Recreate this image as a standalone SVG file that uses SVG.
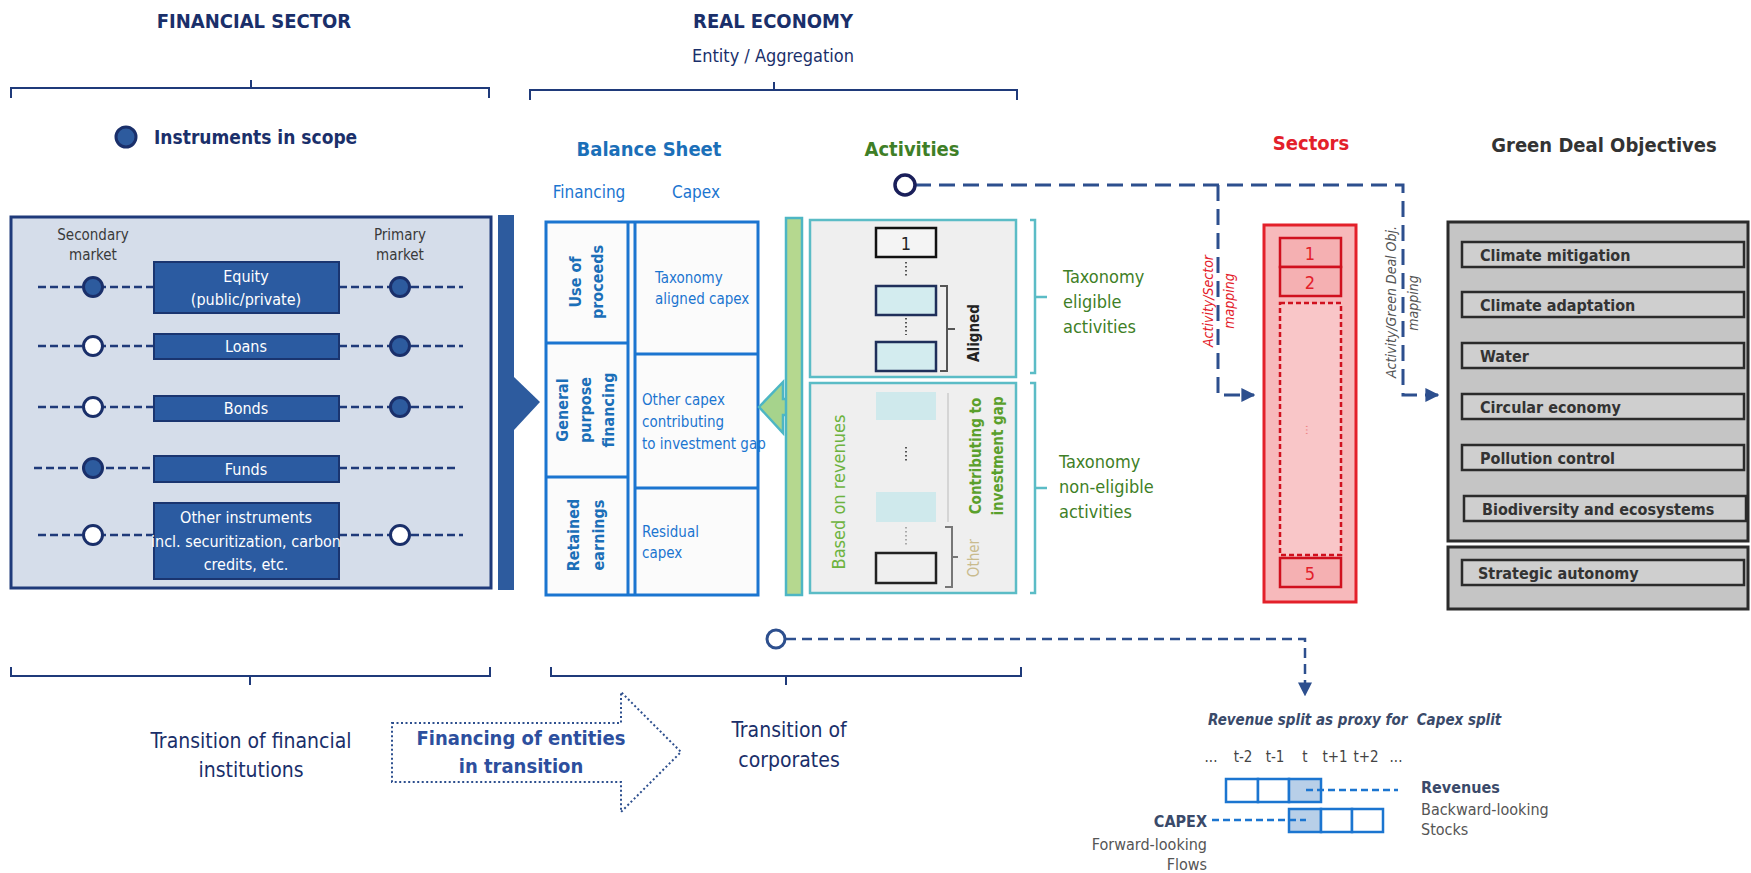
<svg xmlns="http://www.w3.org/2000/svg" width="1751" height="873" viewBox="0 0 1751 873">
<style>
text{font-family:'Liberation Sans Narrow','DejaVu Sans Condensed','Liberation Sans',sans-serif}
.h{font-weight:bold;font-size:20px;text-anchor:middle}
.navy{fill:#1a2f6a}
.br{fill:none;stroke:#1f3a7a;stroke-width:2}
.dl{fill:none;stroke:#1f3a7a;stroke-width:2.5;stroke-dasharray:8 4}
.cf{fill:#2d5b9e;stroke:#1a2f6a;stroke-width:3}
.co{fill:#fff;stroke:#1a2f6a;stroke-width:3}
.ib{fill:#2b5ba1;stroke:#1a3570;stroke-width:2}
.it{fill:#fff;font-size:16px;text-anchor:middle}
.mk{fill:#3a3a3a;font-size:15px;text-anchor:middle}
.bs{fill:none;stroke:#1b75d0;stroke-width:3}
.bl{fill:#1b6fb8;font-size:16px;font-weight:bold;text-anchor:middle}
.bt{fill:#1b75d0;font-size:15px}
.ab{fill:#efefef;stroke:#5bbcc6;stroke-width:2.5}
.gt{fill:#3f7f27;font-size:18px}
.cb{fill:none;stroke:#5bbcc6;stroke-width:2.5}
.md{fill:none;stroke:#2d4f8e;stroke-width:3;stroke-dasharray:16 8}
.gi{fill:#cfcfcf;stroke:#2b2b2b;stroke-width:2.5}
.gx{fill:#333;font-size:16px;font-weight:bold}
.st{fill:#e3202a;font-size:18px;text-anchor:middle}
.sb{fill:#f5b0b2;stroke:#d0101e;stroke-width:2.5}
.cell{fill:#fff;stroke:#1b75d0;stroke-width:2.5}
.cellsh{fill:#b8cfe8;stroke:#1b75d0;stroke-width:2.5}
.tl{fill:#444;font-size:15px;text-anchor:middle}
</style>
<defs>
<marker id="ah" viewBox="0 0 10 10" refX="9" refY="5" markerWidth="14" markerHeight="14" markerUnits="userSpaceOnUse" orient="auto">
<path d="M0,0 L10,5 L0,10 Z" fill="#2d4f8e"/>
</marker>
</defs>

<g id="headers">
<text x="254" y="28" class="h navy">FINANCIAL SECTOR</text>
<path class="br" d="M11,98 V88 H489 V98 M251,88 V80"/>
<circle cx="126" cy="137" r="10" class="cf" stroke-width="2"/>
<text x="154" y="144" class="navy" font-size="19" font-weight="bold">Instruments in scope</text>
<text x="773" y="28" class="h navy">REAL ECONOMY</text>
<text x="773" y="62" class="navy" font-size="18" text-anchor="middle">Entity / Aggregation</text>
<path class="br" d="M530,100 V90 H1017 V100 M774,90 V82"/>
<text x="649" y="156" class="h" fill="#1b6fb8">Balance Sheet</text>
<text x="912" y="156" class="h" fill="#3f7f27">Activities</text>
<text x="1311" y="150" class="h" fill="#e3202a">Sectors</text>
<text x="1604" y="152" class="h" fill="#333">Green Deal Objectives</text>
<text x="589" y="198" fill="#1b75d0" font-size="17" text-anchor="middle">Financing</text>
<text x="696" y="198" fill="#1b75d0" font-size="17" text-anchor="middle">Capex</text>
</g>

<g id="instruments">
<rect x="11" y="217" width="480" height="371" fill="#d5ddea" stroke="#1f3a7a" stroke-width="3"/>
<text x="93" y="240" class="mk">Secondary</text>
<text x="93" y="260" class="mk">market</text>
<text x="400" y="240" class="mk">Primary</text>
<text x="400" y="260" class="mk">market</text>
<path class="dl" d="M38,287 H154 M339,287 H463 M38,346 H154 M339,346 H463 M38,407 H154 M339,407 H463 M34,468 H154 M339,468 H458 M38,535 H154 M339,535 H463"/>
<rect x="154" y="262" width="185" height="51" class="ib"/>
<text x="246" y="282" class="it">Equity</text>
<text x="246" y="305" class="it">(public/private)</text>
<rect x="154" y="334" width="185" height="25" class="ib"/>
<text x="246" y="352" class="it">Loans</text>
<rect x="154" y="396" width="185" height="25" class="ib"/>
<text x="246" y="414" class="it">Bonds</text>
<rect x="154" y="456" width="185" height="26" class="ib"/>
<text x="246" y="475" class="it">Funds</text>
<rect x="154" y="503" width="185" height="76" class="ib"/>
<text x="246" y="523" class="it">Other instruments</text>
<text x="246" y="547" class="it" font-size="15">incl. securitization, carbon</text>
<text x="246" y="570" class="it">credits, etc.</text>
<circle cx="93" cy="287" r="9.5" class="cf"/>
<circle cx="400" cy="287" r="9.5" class="cf"/>
<circle cx="93" cy="346" r="9.5" class="co"/>
<circle cx="400" cy="346" r="9.5" class="cf"/>
<circle cx="93" cy="407" r="9.5" class="co"/>
<circle cx="400" cy="407" r="9.5" class="cf"/>
<circle cx="93" cy="468" r="9.5" class="cf"/>
<circle cx="93" cy="535" r="9.5" class="co"/>
<circle cx="400" cy="535" r="9.5" class="co"/>
</g>

<g id="flow-arrow-blue">
<rect x="498" y="215" width="16" height="375" fill="#2d5b9e"/>
<polygon points="514,377 540,402 514,430" fill="#2d5b9e"/>
</g>

<g id="balance-sheet">
<rect x="546" y="222" width="212" height="373" fill="#fbfbfb"/>
<rect x="546" y="222" width="212" height="373" class="bs"/>
<path class="bs" d="M628,222 V595 M635,222 V595 M546,343 H628 M546,477 H628 M635,354 H758 M635,488 H758"/>
<text class="bl" transform="translate(581,282) rotate(-90)">Use of</text>
<text class="bl" transform="translate(603,282) rotate(-90)">proceeds</text>
<text class="bl" transform="translate(568,410) rotate(-90)">General</text>
<text class="bl" transform="translate(591,410) rotate(-90)">purpose</text>
<text class="bl" transform="translate(614,410) rotate(-90)">financing</text>
<text class="bl" transform="translate(579,535) rotate(-90)">Retained</text>
<text class="bl" transform="translate(604,535) rotate(-90)">earnings</text>
<text x="655" y="283" class="bt">Taxonomy</text>
<text x="655" y="304" class="bt">aligned capex</text>
<text x="642" y="405" class="bt">Other capex</text>
<text x="642" y="427" class="bt">contributing</text>
<text x="642" y="449" class="bt">to investment gap</text>
<text x="642" y="537" class="bt">Residual</text>
<text x="642" y="558" class="bt">capex</text>
</g>

<g id="flow-arrow-green">
<polygon points="759,407 783,382 783,399 790,399 790,415 783,415 783,433" fill="#a6d38c" stroke="#4db6c4" stroke-width="2.5"/>
<rect x="786" y="218" width="16" height="377" fill="#b5d88f" stroke="#4db6c4" stroke-width="2.5"/>
</g>

<g id="activities">
<rect x="810" y="220" width="206" height="157" class="ab"/>
<rect x="810" y="383" width="206" height="210" class="ab"/>
<rect x="876" y="228" width="60" height="29" fill="#f4f4f4" stroke="#111" stroke-width="2.5"/>
<text x="906" y="250" fill="#222" font-size="18" text-anchor="middle">1</text>
<rect x="876" y="286" width="60" height="29" fill="#d3ecef" stroke="#1f2f5a" stroke-width="2.5"/>
<rect x="876" y="342" width="60" height="29" fill="#d3ecef" stroke="#1f2f5a" stroke-width="2.5"/>
<path d="M906,262 V276 M906,318 V335 M906,447 V463" stroke="#555" stroke-width="2" stroke-dasharray="1.5 2.5" fill="none"/>
<path d="M906,527 V547" stroke="#aaa" stroke-width="2" stroke-dasharray="1.5 2.5" fill="none"/>
<path d="M940,286 H947 V371 H940 M947,329 H955" fill="none" stroke="#555" stroke-width="2"/>
<text transform="translate(979,333) rotate(-90)" fill="#222" font-size="15" font-weight="bold" text-anchor="middle">Aligned</text>
<rect x="876" y="392" width="60" height="28" fill="#cfe9ec"/>
<rect x="876" y="492" width="60" height="30" fill="#cfe9ec"/>
<path d="M948,393 V522" stroke="#ccc" stroke-width="1.5"/>
<rect x="876" y="553" width="60" height="30" fill="#efefef" stroke="#222" stroke-width="2.5"/>
<path d="M945,527 H952 V587 H945 M952,557 H958" fill="none" stroke="#777" stroke-width="2"/>
<text transform="translate(979,558) rotate(-90)" fill="#c9bb8e" font-size="15" text-anchor="middle">Other</text>
<text transform="translate(981,456) rotate(-90)" fill="#5aa02c" font-size="15" font-weight="bold" text-anchor="middle">Contributing to</text>
<text transform="translate(1003,456) rotate(-90)" fill="#5aa02c" font-size="15" font-weight="bold" text-anchor="middle">investment gap</text>
<text transform="translate(845,492) rotate(-90)" fill="#6db33f" font-size="18" text-anchor="middle">Based on revenues</text>
<path class="cb" d="M1030,220 H1035 V373 H1030 M1035,297 H1047"/>
<path class="cb" d="M1030,383 H1035 V593 H1030 M1035,488 H1047"/>
<text x="1063" y="283" class="gt">Taxonomy</text>
<text x="1063" y="308" class="gt">eligible</text>
<text x="1063" y="333" class="gt">activities</text>
<text x="1059" y="468" class="gt">Taxonomy</text>
<text x="1059" y="493" class="gt">non-eligible</text>
<text x="1059" y="518" class="gt">activities</text>
</g>

<g id="sectors">
<rect x="1264" y="225" width="92" height="377" fill="#f7b9bb" stroke="#e3202a" stroke-width="3"/>
<rect x="1280" y="238" width="61" height="29" class="sb"/>
<rect x="1280" y="267" width="61" height="29" class="sb"/>
<rect x="1280" y="303" width="61" height="252" fill="#f9c6c8" stroke="#d0101e" stroke-width="2.5" stroke-dasharray="5 3"/>
<rect x="1280" y="558" width="61" height="29" class="sb"/>
<text x="1310" y="260" class="st">1</text>
<text x="1310" y="289" class="st">2</text>
<text x="1310" y="580" class="st">5</text>
<text transform="translate(1306,430) rotate(90)" fill="#e88" font-size="12" text-anchor="middle">...</text>
</g>

<g id="green-deal">
<rect x="1448" y="222" width="300" height="319" fill="#c5c5c5" stroke="#2b2b2b" stroke-width="3"/>
<rect x="1448" y="547" width="300" height="62" fill="#c5c5c5" stroke="#2b2b2b" stroke-width="3"/>
<rect x="1462" y="242" width="282" height="25" class="gi"/>
<text x="1480" y="261" class="gx">Climate mitigation</text>
<rect x="1462" y="292" width="282" height="25" class="gi"/>
<text x="1480" y="311" class="gx">Climate adaptation</text>
<rect x="1462" y="343" width="282" height="25" class="gi"/>
<text x="1480" y="362" class="gx">Water</text>
<rect x="1462" y="394" width="282" height="25" class="gi"/>
<text x="1480" y="413" class="gx">Circular economy</text>
<rect x="1462" y="445" width="282" height="25" class="gi"/>
<text x="1480" y="464" class="gx">Pollution control</text>
<rect x="1464" y="496" width="282" height="25" class="gi"/>
<text x="1482" y="515" class="gx">Biodiversity and ecosystems</text>
<rect x="1462" y="560" width="282" height="25" class="gi"/>
<text x="1478" y="579" class="gx">Strategic autonomy</text>
</g>

<g id="connectors">
<path class="md" d="M915,185 H1403 V395 H1438" marker-end="url(#ah)"/>
<path class="md" d="M1218,185 V395 H1254" marker-end="url(#ah)"/>
<circle cx="905" cy="185" r="10" fill="#fff" stroke="#1a1f5a" stroke-width="3.5"/>
<path d="M786,639 H1305 V695" fill="none" stroke="#2d4f8e" stroke-width="2.5" stroke-dasharray="10 6" marker-end="url(#ah)"/>
<circle cx="776" cy="639" r="9" fill="#fff" stroke="#2d4f8e" stroke-width="3"/>
</g>

<g id="mapping-labels">
<text transform="translate(1213,301) rotate(-90)" fill="#e3202a" font-size="14" font-style="italic" text-anchor="middle">Activity/Sector</text>
<text transform="translate(1234,301) rotate(-90)" fill="#e3202a" font-size="14" font-style="italic" text-anchor="middle">mapping</text>
<text transform="translate(1396,302) rotate(-90)" fill="#555" font-size="14" font-style="italic" text-anchor="middle">Activity/Green Deal Obj.</text>
<text transform="translate(1418,303) rotate(-90)" fill="#555" font-size="14" font-style="italic" text-anchor="middle">mapping</text>
</g>

<g id="bottom">
<path class="br" d="M11,667 V676 H490 V667 M250,676 V685"/>
<path class="br" d="M551,667 V676 H1021 V667 M786,676 V685"/>
<text x="251" y="748" class="navy" font-size="21" text-anchor="middle">Transition of financial</text>
<text x="251" y="777" class="navy" font-size="21" text-anchor="middle">institutions</text>
<polygon points="392,723 621,723 621,692 681,752 621,812 621,782 392,782" fill="#fff" stroke="#2d4f8e" stroke-width="2" stroke-dasharray="2 2.5"/>
<text x="521" y="745" fill="#2d4f9e" font-size="20" font-weight="bold" text-anchor="middle">Financing of entities</text>
<text x="521" y="773" fill="#2d4f9e" font-size="20" font-weight="bold" text-anchor="middle">in transition</text>
<text x="789" y="737" class="navy" font-size="21" text-anchor="middle">Transition of</text>
<text x="789" y="767" class="navy" font-size="21" text-anchor="middle">corporates</text>
</g>

<g id="revenue-split">
<text x="1208" y="725" fill="#3a4a6a" font-size="15" font-weight="bold" font-style="italic" xml:space="preserve">Revenue split as proxy for  Capex split</text>
<text x="1211" y="762" class="tl" font-size="11">...</text>
<text x="1243" y="762" class="tl">t-2</text>
<text x="1275" y="762" class="tl">t-1</text>
<text x="1305" y="762" class="tl">t</text>
<text x="1335" y="762" class="tl">t+1</text>
<text x="1366" y="762" class="tl">t+2</text>
<text x="1396" y="762" class="tl" font-size="11">...</text>
<rect x="1226" y="779" width="32" height="23" class="cell"/>
<rect x="1258" y="779" width="31" height="23" class="cell"/>
<rect x="1289" y="779" width="32" height="23" class="cellsh"/>
<rect x="1289" y="809" width="32" height="23" class="cellsh"/>
<rect x="1321" y="809" width="31" height="23" class="cell"/>
<rect x="1352" y="809" width="31" height="23" class="cell"/>
<path d="M1306,790 H1398 M1212,820 H1306" fill="none" stroke="#1b75d0" stroke-width="2.5" stroke-dasharray="7 4"/>
<text x="1421" y="793" fill="#3a4a6a" font-size="16" font-weight="bold">Revenues</text>
<text x="1421" y="815" fill="#555" font-size="16">Backward-looking</text>
<text x="1421" y="835" fill="#555" font-size="16">Stocks</text>
<text x="1207" y="827" fill="#3a4a6a" font-size="16" font-weight="bold" text-anchor="end">CAPEX</text>
<text x="1207" y="850" fill="#555" font-size="16" text-anchor="end">Forward-looking</text>
<text x="1207" y="870" fill="#555" font-size="16" text-anchor="end">Flows</text>
</g>
</svg>
